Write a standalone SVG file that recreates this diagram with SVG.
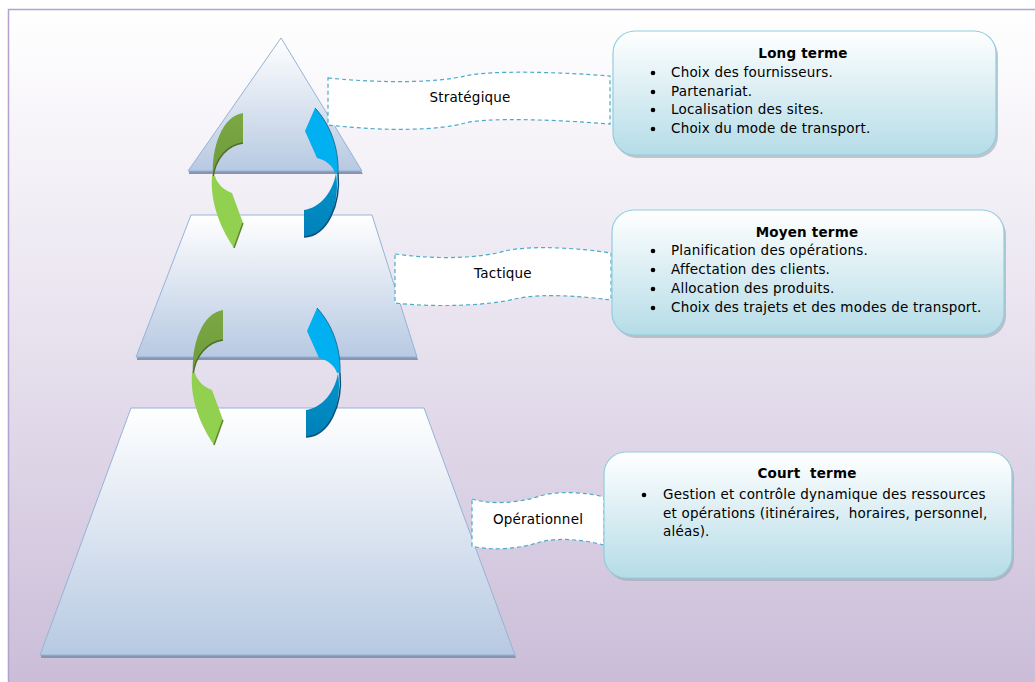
<svg xmlns="http://www.w3.org/2000/svg" width="1035" height="682" viewBox="0 0 1035 682">
<defs>
<linearGradient id="bg" x1="0" y1="0" x2="0" y2="1">
<stop offset="0" stop-color="#FFFFFF"/>
<stop offset="0.5" stop-color="#E7E1EE"/>
<stop offset="1" stop-color="#CBBDD8"/>
</linearGradient>
<linearGradient id="lvl" x1="0" y1="0" x2="0" y2="1">
<stop offset="0" stop-color="#FFFFFF"/>
<stop offset="1" stop-color="#B7C9E2"/>
</linearGradient>
<linearGradient id="box" x1="0" y1="0" x2="0" y2="1">
<stop offset="0" stop-color="#FFFFFF"/>
<stop offset="1" stop-color="#B5DCE7"/>
</linearGradient>
<linearGradient id="gdark" x1="0" y1="0" x2="0" y2="1">
<stop offset="0" stop-color="#7BA844"/>
<stop offset="1" stop-color="#6E9A3A"/>
</linearGradient>
<linearGradient id="bdark" x1="0" y1="0" x2="0" y2="1">
<stop offset="0" stop-color="#0094CC"/>
<stop offset="1" stop-color="#0081B8"/>
</linearGradient>
<g id="garrow">
<path d="M243,113 L243,143 C228,145 215,158 213,178 C211,148 222,116 243,113 Z" fill="url(#gdark)"/>
<path d="M243,143 C228,145 215,158 213,178" fill="none" stroke="#4E6E28" stroke-width="1.5"/>
<path d="M212,176 C210,200 219,226 234,248 L243,223 L232,193 C224,190 217,184 215,176 Z" fill="#92D050"/>
<path d="M243,223 L234,248" fill="none" stroke="#5E8430" stroke-width="1.5"/>
</g>
<g id="barrow">
<path d="M304,237 L304,210 C320,208 333,192 336,173 C341,205 327,236 304,237 Z" fill="url(#bdark)"/>
<path d="M304,237 C327,236 341,205 338,173" fill="none" stroke="#0B4F78" stroke-width="1.5"/>
<path d="M338,173 C339,148 330,124 315,108 L305,131 L317,158 C326,160 333,166 335,173 Z" fill="#00B0F0"/>
<path d="M338,173 C339,148 330,124 315,108" fill="none" stroke="#1F6F99" stroke-width="1"/>
</g>
</defs>
<style>
.lvl{fill:url(#lvl);stroke:#95B3D7;stroke-width:1}
.sh{fill:#8595B2}
.lab{fill:#FFFFFF;stroke:#4BACC6;stroke-width:1.2;stroke-dasharray:4,3}
.bx{fill:url(#box);stroke:#92CDDC;stroke-width:1.2}
.bxs{fill:#9AA8B0;opacity:0.6}
text{font-family:"DejaVu Sans","Liberation Sans",sans-serif;font-size:13.5px;letter-spacing:0.2px;fill:#000}
.t{font-weight:bold;font-size:13.5px;text-anchor:middle}
.c{text-anchor:middle}
</style>
<rect x="0" y="0" width="1035" height="682" fill="#FFFFFF"/>
<rect x="8" y="9" width="1027" height="673" fill="url(#bg)"/>
<path d="M8.5,682 L8.5,9.5 L1035,9.5" fill="none" stroke="#B3A2CF" stroke-width="1.5"/>

<g id="level-strategique">
<polygon class="sh" points="189,171 361,171 363,174 189,174"/>
<polygon class="lvl" points="281,38 188,171 362,171"/>
</g>
<g id="level-tactique">
<polygon class="sh" points="137,357 417,357 418,360 137,360"/>
<polygon class="lvl" points="191,215 372,215 417,357 136,357"/>
</g>
<g id="level-operationnel">
<polygon class="sh" points="41,655 515,655 516,658 41,658"/>
<polygon class="lvl" points="131,408 424,408 515,655 40,655"/>
</g>

<g id="connectors">
<use href="#garrow"/>
<use href="#barrow"/>
<use href="#garrow" transform="translate(-20,197)"/>
<use href="#barrow" transform="translate(2,200)"/>
</g>

<g id="label-strategique">
<path class="lab" d="M328,78 C390,84 440,82 465,76 C490,70 560,72 610,76 L610,124 C560,120 490,117 465,123 C440,130 390,132 328,125 Z"/>
<text class="c" x="470" y="102">Stratégique</text>
</g>
<g id="label-tactique">
<path class="lab" d="M395,254 C440,260 480,258 505,251 C530,245 580,248 611,253 L611,300 C580,296 540,293 515,299 C490,305 440,308 395,303 Z"/>
<text class="c" x="503" y="278">Tactique</text>
</g>
<g id="label-operationnel">
<path class="lab" d="M472,499 C490,505 520,503 540,496 C560,490 590,493 604,497 L604,545 C585,540 560,537 540,542 C520,549 490,551 472,546 Z"/>
<text class="c" x="538" y="524">Opérationnel</text>
</g>

<g id="box-long">
<rect class="bxs" x="615" y="34" width="383" height="124" rx="22"/>
<rect class="bx" x="613" y="31" width="383" height="124" rx="22"/>
<text class="t" x="803" y="58">Long terme</text>
<circle cx="653" cy="73" r="2.3"/><text x="671" y="77">Choix des fournisseurs.</text>
<circle cx="653" cy="92" r="2.3"/><text x="671" y="96">Partenariat.</text>
<circle cx="653" cy="110" r="2.3"/><text x="671" y="114">Localisation des sites.</text>
<circle cx="653" cy="129" r="2.3"/><text x="671" y="133">Choix du mode de transport.</text>
</g>
<g id="box-moyen">
<rect class="bxs" x="614" y="213" width="392" height="125" rx="22"/>
<rect class="bx" x="612" y="210" width="392" height="125" rx="22"/>
<text class="t" x="807" y="237">Moyen terme</text>
<circle cx="653" cy="251" r="2.3"/><text x="671" y="255">Planification des opérations.</text>
<circle cx="653" cy="270" r="2.3"/><text x="671" y="274">Affectation des clients.</text>
<circle cx="653" cy="289" r="2.3"/><text x="671" y="293">Allocation des produits.</text>
<circle cx="653" cy="308" r="2.3"/><text x="671" y="312">Choix des trajets et des modes de transport.</text>
</g>
<g id="box-court">
<rect class="bxs" x="606" y="455" width="408" height="126" rx="22"/>
<rect class="bx" x="604" y="452" width="408" height="126" rx="22"/>
<text class="t" x="807" y="478" xml:space="preserve">Court  terme</text>
<circle cx="644" cy="495" r="2.3"/><text x="663" y="499">Gestion et contrôle dynamique des ressources</text>
<text x="663" y="518" xml:space="preserve">et opérations (itinéraires,  horaires, personnel,</text>
<text x="663" y="536">aléas).</text>
</g>
</svg>
